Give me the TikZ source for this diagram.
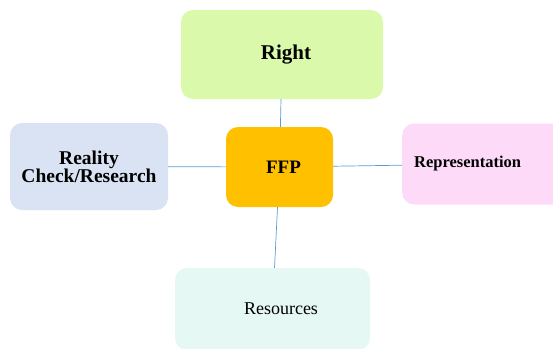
\documentclass[tikz,border=0pt]{standalone}
\usepackage{fontspec}
\setmainfont{Liberation Serif}
\usepackage{tikz}
\usepackage{xcolor}
\definecolor{ffporange}{HTML}{FFC000}
\definecolor{rightgreen}{HTML}{DAF9AA}
\definecolor{realityblue}{HTML}{DAE3F3}
\definecolor{reprpink}{HTML}{FCDAF8}
\definecolor{resmint}{HTML}{E5F8F4}
\definecolor{linkblue}{HTML}{5B9BD5}
\tikzset{
  topic/.style={rounded corners=12pt, draw=none, inner sep=0pt, align=center,
    font=\fontsize{16.5}{17}\selectfont\bfseries, text=black},
  link/.style={line width=0.7pt, draw=linkblue},
}

\begin{document}
\begin{tikzpicture}[x=1pt, y=-1pt]
  \useasboundingbox (0,0) rectangle (553,348);
  % central topic
  \node[topic, fill=ffporange, minimum width=107pt, minimum height=80pt,
    font=\fontsize{19}{20}\selectfont\bfseries] (ffp) at (279.5,167) {\hspace*{8pt}FFP};
  % branches
  \node[topic, fill=rightgreen, minimum width=202pt, minimum height=89pt,
    font=\fontsize{21}{22}\selectfont\bfseries] (right) at (282,54.5) {\hspace*{8pt}Right};
  \node[topic, fill=realityblue, minimum width=158pt, minimum height=87pt,
    font=\fontsize{19.5}{19.5}\selectfont\bfseries] (reality) at (89,166.5) {Reality\\[-1.5pt]Check/Research};
  \node[topic, fill=reprpink, minimum width=165pt, minimum height=81pt, anchor=west,
    text width=141pt, align=left, inner xsep=12pt] (repr) at (402,164) {Representation};
  \node[topic, fill=resmint, minimum width=195pt, minimum height=82pt,
    font=\fontsize{18}{19}\selectfont, text width=183pt, inner xsep=6pt,
    align=center] (res) at (272.5,309) {\hspace*{17pt}Resources};
  % connectors
  \draw[link] (ffp) -- (right);
  \draw[link] (ffp) -- (reality);
  \draw[link] (ffp) -- (repr);
  \draw[link] (ffp) -- (res);
\end{tikzpicture}
\end{document}
